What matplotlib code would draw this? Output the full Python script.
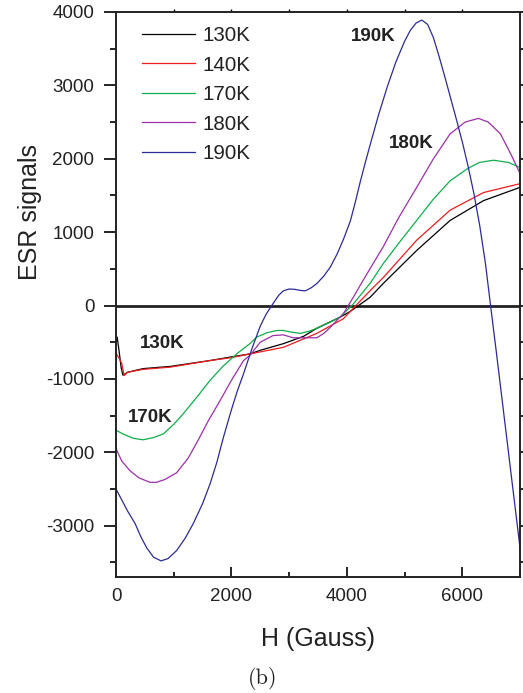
import matplotlib
matplotlib.use("Agg")
import matplotlib.pyplot as plt
from matplotlib.ticker import MultipleLocator

plt.rcParams['font.family'] = ['Liberation Sans', 'DejaVu Sans']
plt.rcParams['axes.unicode_minus'] = False

# ---- data ----
h_130 = [0, 20, 50, 90, 120, 200, 470, 940, 1630, 2000, 2320, 2500, 2900, 3250, 3480,
         3880, 4060, 4400, 4630, 5210, 5790, 6370, 7000]
esr_130 = [-470, -430, -600, -850, -950, -910, -860, -830, -750, -700, -660, -610, -520, -420, -310,
           -160, -80, 110, 300, 750, 1160, 1430, 1610]

h_140 = [0, 40, 100, 140, 200, 470, 940, 1630, 2000, 2320, 2900, 3480, 3940, 4400, 4630,
         5210, 5790, 6370, 7000]
esr_140 = [-650, -700, -790, -955, -910, -870, -840, -750, -710, -660, -570, -380, -180, 200, 380,
           890, 1300, 1540, 1660]

h_170 = [0, 120, 300, 470, 650, 820, 1000, 1160, 1400, 1630, 1850, 2090, 2320, 2440, 2620,
         2790, 2900, 3020, 3190, 3350, 3480, 3700, 3880, 4110, 4400, 4630, 4900, 5210, 5500,
         5790, 6100, 6300, 6540, 6800, 7000]
esr_170 = [-1700, -1750, -1810, -1830, -1800, -1750, -1620, -1480, -1250, -1020, -830, -660, -520, -430, -370,
           -340, -340, -360, -380, -350, -310, -230, -160, 20, 300, 570, 850, 1160, 1450,
           1700, 1870, 1950, 1980, 1950, 1880]

h_180 = [0, 100, 240, 400, 590, 700, 850, 1050, 1250, 1420, 1600, 1800, 2000, 2210, 2320,
         2500, 2720, 2900, 3070, 3250, 3480, 3600, 3710, 3830, 3940, 4110, 4250, 4400, 4630,
         4900, 5210, 5500, 5790, 6050, 6280, 6450, 6660, 6850, 7000]
esr_180 = [-1950, -2120, -2250, -2350, -2410, -2410, -2370, -2280, -2080, -1840, -1570, -1300, -1020, -750, -680,
           -500, -410, -400, -440, -440, -440, -380, -300, -200, -110, 110, 300, 500, 800,
           1200, 1610, 2000, 2340, 2500, 2550, 2500, 2340, 2050, 1800]

h_190 = [0, 100, 200, 330, 430, 530, 650, 780, 900, 1050, 1200, 1340, 1500, 1630, 1750,
         1860, 2000, 2100, 2210, 2350, 2500, 2600, 2720, 2820, 2900, 3000, 3100, 3200, 3280,
         3380, 3480, 3600, 3710, 3830, 3940, 4060, 4150, 4230, 4320, 4400, 4550, 4700, 4850,
         5000, 5100, 5200, 5300, 5400, 5500, 5600, 5700, 5800, 5900, 6000, 6100, 6200, 6300,
         6400, 6490, 6600, 6700, 6800, 6900, 7000]
esr_190 = [-2500, -2650, -2800, -2970, -3150, -3300, -3430, -3480, -3450, -3340, -3170, -2970, -2700, -2430, -2130,
           -1800, -1420, -1170, -930, -600, -280, -120, 25, 140, 200, 225, 220, 205, 200,
           240, 300, 400, 520, 700, 900, 1150, 1420, 1680, 1950, 2180, 2600, 2980, 3320,
           3600, 3750, 3850, 3890, 3830, 3650, 3390, 3110, 2820, 2530, 2230, 1900, 1530, 1100,
           580, 0, -700, -1350, -2000, -2650, -3300]

series_labels = ['130K', '140K', '170K', '180K', '190K']
series_colors = ['#000000', '#ee1c1c', '#0fae4a', '#9b30a8', '#2b2b98']

annot_text = ['190K', '180K', '130K', '170K']
annot_h = [4460, 5115, 800, 590]
annot_v = [3660, 2210, -520, -1530]

x_ticks = [0, 2000, 4000, 6000]
y_ticks = [-3000, -2000, -1000, 0, 1000, 2000, 3000, 4000]

# ---- figure ----
fig = plt.figure(figsize=(5.23, 6.93), dpi=100)
ax = fig.add_axes([116/523, 1-577/693, (520-116)/523, (577-12)/693])

xs = [h_130, h_140, h_170, h_180, h_190]
ys = [esr_130, esr_140, esr_170, esr_180, esr_190]
for x, y, lab, c in zip(xs, ys, series_labels, series_colors):
    ax.plot(x, y, color=c, lw=0.9, label=lab)

ax.axhline(0, color='#222222', lw=2.0, zorder=1)

ax.set_xlim(0, 7000)
ax.set_ylim(-3700, 4000)
ax.set_xticks(x_ticks)
ax.set_yticks(y_ticks)
ax.xaxis.set_minor_locator(MultipleLocator(1000))
ax.yaxis.set_minor_locator(MultipleLocator(500))

txtc = '#222222'
ax.tick_params(axis='x', which='both', direction='in', top=False, bottom=True,
               labelsize=13.5, labelcolor=txtc, pad=8, width=1.2)
ax.tick_params(axis='x', which='major', length=7)
ax.tick_params(axis='x', which='minor', length=3.5)
ax.tick_params(axis='y', which='both', direction='out', left=True, right=True,
               labelsize=13.5, labelcolor=txtc, pad=6.5, width=1.2)
ax.tick_params(axis='y', which='major', length=9)
ax.tick_params(axis='y', which='minor', length=4)

# small outward ticks on the top edge
axt = ax.secondary_xaxis('top')
axt.set_xticks([1000, 2000, 3000, 4000, 5000, 6000])
axt.tick_params(direction='out', length=2.5, width=1.0, labeltop=False)
axt.spines['top'].set_visible(False)

for s in ax.spines.values():
    s.set_linewidth(1.4)
    s.set_color('#222222')

ax.set_xlabel('H (Gauss)', fontsize=18, color=txtc, labelpad=16)
ax.set_ylabel('ESR signals', fontsize=18, color=txtc)
ax.yaxis.set_label_coords(-0.183, 0.646)

for t, hx, vy in zip(annot_text, annot_h, annot_v):
    ax.text(hx, vy, t, fontsize=13.5, fontweight='bold', color=txtc,
            ha='center', va='center')

leg = ax.legend(loc='upper left', bbox_to_anchor=(0.064, 0.975), frameon=False,
                fontsize=14.8, handlelength=2.6, handletextpad=0.35,
                labelspacing=0.51, borderpad=0, borderaxespad=0)
for t in leg.get_texts():
    t.set_color(txtc)

fig.text(263/523, 1-678/693, '(b)', fontsize=16, family='cmr10',
         ha='center', va='center', color=txtc)

fig.savefig('out.png', dpi=100)
